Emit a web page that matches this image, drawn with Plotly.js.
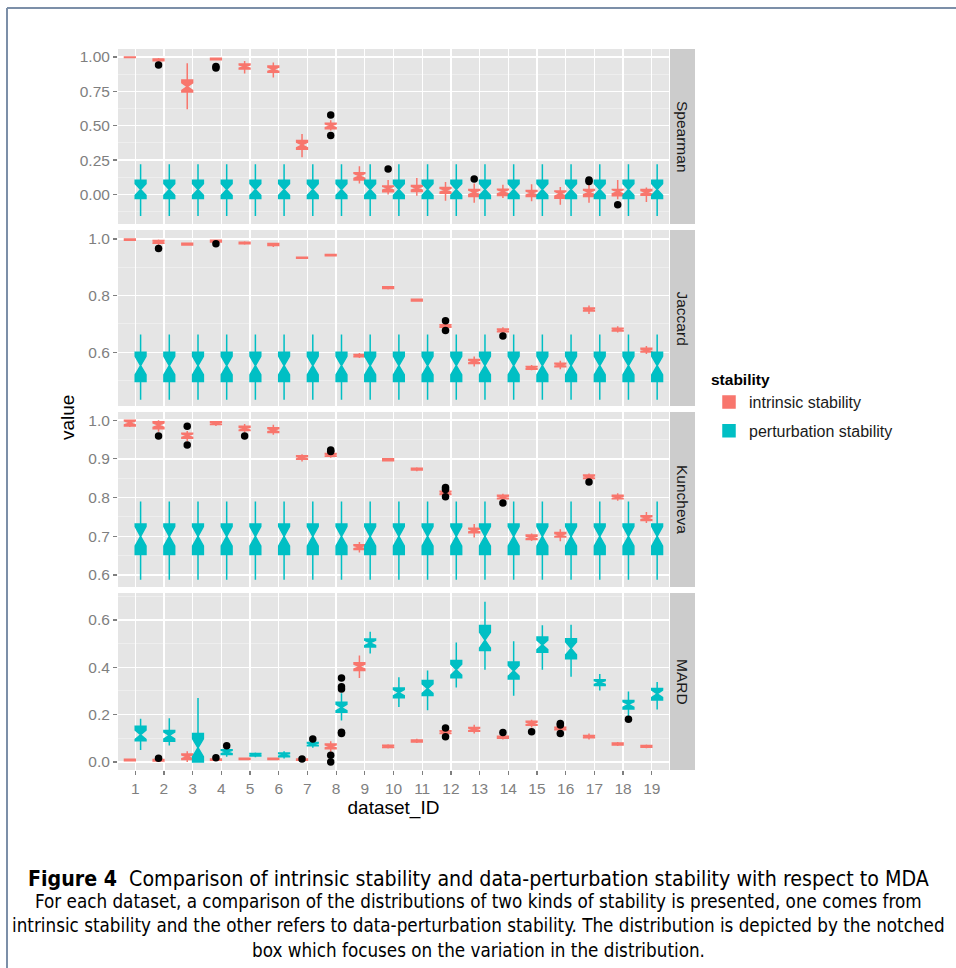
<!DOCTYPE html>
<html><head><meta charset="utf-8">
<script src="https://cdn.plot.ly/plotly-3.0.1.min.js"></script>
<style>html,body{margin:0;padding:0;background:#fff}#chart{width:956px;height:968px}</style>
</head><body><div id="chart"></div><script>
// ---------- DATA ----------
const datasetIds = [1,2,3,4,5,6,7,8,9,10,11,12,13,14,15,16,17,18,19];
const facetNames = ["Spearman","Jaccard","Kuncheva","MARD"];
const seriesNames = ["intrinsic stability","perturbation stability"];
const sampleSize = 25; // runs per box, used for notch width (1.58*IQR/sqrt(n))

// Spearman - intrinsic
const spIntrQ1  = [0.996,0.972,0.745,0.980,0.912,0.888,0.328,0.478,0.105,0.020,0.022,0.008,-0.015,-0.008,-0.015,-0.028,-0.015,-0.010,-0.005];
const spIntrMed = [0.998,0.979,0.785,0.985,0.930,0.910,0.360,0.500,0.135,0.045,0.045,0.030,0.015,0.020,0.010,0.005,0.015,0.020,0.015];
const spIntrQ3  = [1.000,0.986,0.832,0.990,0.948,0.935,0.392,0.518,0.158,0.062,0.065,0.050,0.036,0.038,0.028,0.025,0.036,0.036,0.036];
const spIntrLo  = [0.994,0.962,0.620,0.975,0.880,0.850,0.270,0.465,0.080,0.000,-0.010,-0.045,-0.060,-0.025,-0.050,-0.075,-0.060,-0.035,-0.055];
const spIntrHi  = [1.000,0.992,0.955,0.995,0.970,0.960,0.440,0.540,0.205,0.105,0.120,0.090,0.080,0.070,0.075,0.055,0.070,0.105,0.050];
const spIntrOutX = [2,4,4,8,8,10,13,17,17,18];
const spIntrOutY = [0.942,0.930,0.920,0.578,0.428,0.185,0.112,0.105,0.095,-0.075];
// Spearman - perturbation
const spPertQ1  = [-0.030,-0.030,-0.030,-0.030,-0.030,-0.030,-0.030,-0.030,-0.030,-0.030,-0.030,-0.030,-0.030,-0.030,-0.030,-0.030,-0.030,-0.030,-0.030];
const spPertMed = [0.036,0.036,0.036,0.036,0.036,0.036,0.036,0.036,0.036,0.036,0.036,0.036,0.036,0.036,0.036,0.036,0.036,0.036,0.036];
const spPertQ3  = [0.103,0.103,0.103,0.103,0.103,0.103,0.103,0.103,0.103,0.103,0.103,0.103,0.103,0.103,0.103,0.103,0.103,0.103,0.103];
const spPertLo  = [-0.157,-0.157,-0.157,-0.157,-0.157,-0.157,-0.157,-0.157,-0.157,-0.157,-0.157,-0.157,-0.157,-0.157,-0.157,-0.157,-0.157,-0.157,-0.157];
const spPertHi  = [0.220,0.220,0.220,0.220,0.220,0.220,0.220,0.220,0.220,0.220,0.220,0.220,0.220,0.220,0.220,0.220,0.220,0.220,0.220];
const spPertOutX = [];
const spPertOutY = [];

// Jaccard - intrinsic
const jaIntrQ1  = [0.996,0.985,0.979,0.990,0.983,0.977,0.932,0.941,0.584,0.825,0.781,0.688,0.560,0.672,0.540,0.549,0.746,0.675,0.601];
const jaIntrMed = [0.998,0.990,0.982,0.993,0.986,0.980,0.934,0.943,0.588,0.828,0.784,0.693,0.567,0.677,0.545,0.555,0.751,0.680,0.607];
const jaIntrQ3  = [1.000,0.995,0.985,0.996,0.989,0.984,0.936,0.945,0.592,0.831,0.787,0.697,0.574,0.682,0.550,0.561,0.756,0.685,0.614];
const jaIntrLo  = [0.995,0.978,0.977,0.987,0.980,0.972,0.930,0.939,0.580,0.822,0.778,0.684,0.550,0.668,0.536,0.540,0.735,0.670,0.594];
const jaIntrHi  = [1.000,0.998,0.987,0.998,0.992,0.987,0.938,0.947,0.597,0.833,0.790,0.700,0.585,0.688,0.555,0.570,0.765,0.692,0.622];
const jaIntrOutX = [2,4,12,12,14];
const jaIntrOutY = [0.967,0.983,0.711,0.677,0.657];
// Jaccard - perturbation
const jaPertQ1  = [0.497,0.497,0.497,0.497,0.497,0.497,0.497,0.497,0.497,0.497,0.497,0.497,0.497,0.497,0.497,0.497,0.497,0.497,0.497];
const jaPertMed = [0.553,0.553,0.553,0.553,0.553,0.553,0.553,0.553,0.553,0.553,0.553,0.553,0.553,0.553,0.553,0.553,0.553,0.553,0.553];
const jaPertQ3  = [0.600,0.600,0.600,0.600,0.600,0.600,0.600,0.600,0.600,0.600,0.600,0.600,0.600,0.600,0.600,0.600,0.600,0.600,0.600];
const jaPertLo  = [0.432,0.432,0.432,0.432,0.432,0.432,0.432,0.432,0.432,0.432,0.432,0.432,0.432,0.432,0.432,0.432,0.432,0.432,0.432];
const jaPertHi  = [0.663,0.663,0.663,0.663,0.663,0.663,0.663,0.663,0.663,0.663,0.663,0.663,0.663,0.663,0.663,0.663,0.663,0.663,0.663];
const jaPertOutX = [];
const jaPertOutY = [];

// Kuncheva - intrinsic
const kuIntrQ1  = [0.985,0.978,0.953,0.989,0.973,0.968,0.899,0.907,0.666,0.895,0.871,0.808,0.709,0.797,0.692,0.698,0.849,0.797,0.741];
const kuIntrMed = [0.993,0.987,0.960,0.992,0.978,0.974,0.903,0.910,0.672,0.898,0.873,0.812,0.715,0.801,0.697,0.703,0.853,0.800,0.747];
const kuIntrQ3  = [1.000,0.996,0.966,0.996,0.984,0.980,0.908,0.914,0.678,0.900,0.876,0.816,0.721,0.806,0.703,0.710,0.858,0.806,0.753];
const kuIntrLo  = [0.982,0.970,0.946,0.985,0.968,0.962,0.893,0.903,0.658,0.893,0.868,0.805,0.697,0.793,0.688,0.687,0.846,0.792,0.734];
const kuIntrHi  = [1.000,1.000,0.972,0.998,0.990,0.988,0.912,0.917,0.685,0.902,0.878,0.818,0.732,0.810,0.707,0.718,0.862,0.811,0.763];
const kuIntrOutX = [2,3,3,5,8,8,12,12,12,14,17];
const kuIntrOutY = [0.959,0.984,0.936,0.959,0.923,0.919,0.826,0.821,0.802,0.786,0.840];
// Kuncheva - perturbation
const kuPertQ1  = [0.653,0.653,0.653,0.653,0.653,0.653,0.653,0.653,0.653,0.653,0.653,0.653,0.653,0.653,0.653,0.653,0.653,0.653,0.653];
const kuPertMed = [0.700,0.700,0.700,0.700,0.700,0.700,0.700,0.700,0.700,0.700,0.700,0.700,0.700,0.700,0.700,0.700,0.700,0.700,0.700];
const kuPertQ3  = [0.732,0.732,0.732,0.732,0.732,0.732,0.732,0.732,0.732,0.732,0.732,0.732,0.732,0.732,0.732,0.732,0.732,0.732,0.732];
const kuPertLo  = [0.588,0.588,0.588,0.588,0.588,0.588,0.588,0.588,0.588,0.588,0.588,0.588,0.588,0.588,0.588,0.588,0.588,0.588,0.588];
const kuPertHi  = [0.790,0.790,0.790,0.790,0.790,0.790,0.790,0.790,0.790,0.790,0.790,0.790,0.790,0.790,0.790,0.790,0.790,0.790,0.790];
const kuPertOutX = [];
const kuPertOutY = [];

// MARD - intrinsic
const maIntrQ1  = [0.005,0.004,0.010,0.007,0.010,0.010,0.007,0.056,0.387,0.061,0.084,0.120,0.130,0.100,0.155,0.136,0.102,0.072,0.062];
const maIntrMed = [0.008,0.007,0.022,0.010,0.013,0.013,0.010,0.066,0.403,0.066,0.089,0.126,0.138,0.104,0.163,0.142,0.107,0.076,0.066];
const maIntrQ3  = [0.011,0.010,0.034,0.013,0.016,0.016,0.013,0.076,0.419,0.071,0.093,0.132,0.146,0.109,0.172,0.147,0.112,0.080,0.070];
const maIntrLo  = [0.002,0.002,0.000,0.004,0.008,0.008,0.004,0.043,0.355,0.057,0.080,0.114,0.120,0.095,0.146,0.131,0.095,0.067,0.058];
const maIntrHi  = [0.014,0.013,0.045,0.016,0.018,0.018,0.016,0.087,0.450,0.075,0.098,0.136,0.157,0.113,0.178,0.151,0.120,0.084,0.074];
const maIntrOutX = [2,4,7,8,8,12,12,14,15,16,16,16];
const maIntrOutY = [0.016,0.018,0.012,0.028,0.000,0.143,0.107,0.124,0.128,0.163,0.156,0.120];
// MARD - perturbation
const maPertQ1  = [0.090,0.088,0.000,0.031,0.025,0.022,0.068,0.210,0.486,0.271,0.281,0.356,0.471,0.351,0.464,0.436,0.323,0.224,0.262];
const maPertMed = [0.115,0.112,0.060,0.042,0.030,0.030,0.075,0.230,0.503,0.293,0.310,0.390,0.515,0.385,0.495,0.480,0.336,0.243,0.288];
const maPertQ3  = [0.151,0.133,0.120,0.052,0.036,0.038,0.082,0.252,0.520,0.313,0.344,0.429,0.577,0.422,0.528,0.521,0.347,0.260,0.310];
const maPertLo  = [0.050,0.070,0.000,0.022,0.020,0.015,0.060,0.175,0.458,0.232,0.218,0.315,0.390,0.280,0.390,0.360,0.302,0.190,0.222];
const maPertHi  = [0.183,0.185,0.270,0.060,0.040,0.045,0.086,0.290,0.550,0.358,0.387,0.505,0.677,0.510,0.578,0.580,0.372,0.298,0.338];
const maPertOutX = [4,7,8,8,8,8,8,18];
const maPertOutY = [0.068,0.097,0.355,0.318,0.308,0.126,0.120,0.180];

// ---------- STYLE ----------
const COLORS = ["#F8766D", "#00BFC4"];
const BOXGAP = 0.25;
const DODGE = (1 - BOXGAP) / 4;   // centre offset of each of the 2 dodged boxes
const W = 956, H = 968;
const px = v => v / W;
const py = v => 1 - v / H;
const XDOM = [px(118), px(669)];
const panels = [
  {top: 49,  bot: 224, range: [-0.215, 1.058], dtick: 0.25, minor: 0.125, fmt: ".2f"},
  {top: 230, bot: 406, range: [0.41, 1.032],   dtick: 0.2,  minor: 0.1,   fmt: ".1f"},
  {top: 412, bot: 587, range: [0.569, 1.021],  dtick: 0.1,  minor: 0.05,  fmt: ".1f"},
  {top: 593, bot: 770, range: [-0.034, 0.714], dtick: 0.2,  minor: 0.1,   fmt: ".1f"}
];
const facetData = [
  [[spIntrQ1,spIntrMed,spIntrQ3,spIntrLo,spIntrHi,spIntrOutX,spIntrOutY],[spPertQ1,spPertMed,spPertQ3,spPertLo,spPertHi,spPertOutX,spPertOutY]],
  [[jaIntrQ1,jaIntrMed,jaIntrQ3,jaIntrLo,jaIntrHi,jaIntrOutX,jaIntrOutY],[jaPertQ1,jaPertMed,jaPertQ3,jaPertLo,jaPertHi,jaPertOutX,jaPertOutY]],
  [[kuIntrQ1,kuIntrMed,kuIntrQ3,kuIntrLo,kuIntrHi,kuIntrOutX,kuIntrOutY],[kuPertQ1,kuPertMed,kuPertQ3,kuPertLo,kuPertHi,kuPertOutX,kuPertOutY]],
  [[maIntrQ1,maIntrMed,maIntrQ3,maIntrLo,maIntrHi,maIntrOutX,maIntrOutY],[maPertQ1,maPertMed,maPertQ3,maPertLo,maPertHi,maPertOutX,maPertOutY]]
];

const FONT = "'Liberation Sans', Arial, Helvetica, sans-serif";
const traces = [];
const layout = {
  width: W, height: H,
  margin: {l: 0, r: 0, t: 0, b: 0},
  paper_bgcolor: "#FFFFFF",
  plot_bgcolor: "#E5E5E5",
  font: {family: FONT, size: 15, color: "#000"},
  boxmode: "group", boxgap: BOXGAP, boxgroupgap: 0,
  showlegend: true,
  legend: {
    x: px(709), y: py(365), xanchor: "left", yanchor: "top",
    title: {text: "<b>stability</b>", font: {size: 15.5, color: "#000"}},
    font: {size: 16, color: "#1a1a1a"},
    bgcolor: "rgba(0,0,0,0)",
    traceorder: "grouped", tracegroupgap: 5
  },
  shapes: [], annotations: []
};

facetData.forEach((fd, f) => {
  const k = f === 0 ? "" : String(f + 1);
  const p = panels[f];
  const isBottom = f === panels.length - 1;
  layout["xaxis" + k] = {
    domain: XDOM, anchor: "y" + k, range: [0.4, 19.6],
    tickmode: "array", tickvals: datasetIds, ticktext: datasetIds.map(String),
    showticklabels: isBottom, ticks: isBottom ? "outside" : "", ticklen: 4, tickcolor: "#7F7F7F", tickwidth: 1.2,
    tickfont: {size: 15.5, color: "#7F7F7F"},
    showgrid: true, gridcolor: "#FFFFFF", gridwidth: 1.3, zeroline: false, showline: false,
    title: isBottom ? {text: "dataset_ID", font: {size: 19, color: "#000"}, standoff: 4} : {text: ""}
  };
  layout["yaxis" + k] = {
    domain: [py(p.bot), py(p.top)], anchor: "x" + k, range: p.range,
    tick0: 0, dtick: p.dtick, tickformat: p.fmt,
    ticks: "outside", ticklen: 4, tickcolor: "#7F7F7F", tickwidth: 1.2,
    tickfont: {size: 15.5, color: "#7F7F7F"},
    showgrid: true, gridcolor: "#FFFFFF", gridwidth: 1.3, zeroline: false, showline: false,
    minor: {dtick: p.minor, tick0: 0, showgrid: true, gridcolor: "#F2F2F2", gridwidth: 0.7, ticks: ""}
  };
  fd.forEach((s, si) => {
    const [q1, med, q3, lo, hi] = s;
    traces.push({
      type: "box", name: seriesNames[si], legendgroup: seriesNames[si], showlegend: f === 0,
      alignmentgroup: "panel" + f, offsetgroup: "series" + si,
      x: datasetIds, q1: q1, median: med, q3: q3, lowerfence: lo, upperfence: hi,
      notchspan: q1.map((v, i) => 1.58 * (q3[i] - v) / Math.sqrt(sampleSize)),
      notched: true, notchwidth: 0.5, whiskerwidth: 0, boxpoints: false,
      fillcolor: COLORS[si], line: {color: COLORS[si], width: 1.5},
      xaxis: "x" + k, yaxis: "y" + k, hoverinfo: "y"
    });
  });
  fd.forEach((s, si) => {
    const ox = s[5], oy = s[6];
    if (!ox.length) return;
    traces.push({
      type: "scatter", mode: "markers", showlegend: false, legendgroup: seriesNames[si],
      x: ox.map(v => v + (si === 0 ? -DODGE : DODGE)), y: oy,
      marker: {color: "#000", size: 7.5},
      xaxis: "x" + k, yaxis: "y" + k, hoverinfo: "y"
    });
  });
  // facet strip
  layout.shapes.push({type: "rect", xref: "paper", yref: "paper", x0: px(670), x1: px(695),
    y0: py(p.bot), y1: py(p.top), fillcolor: "#CCCCCC", line: {width: 0}, layer: "below"});
  layout.annotations.push({xref: "paper", yref: "paper", x: px(682.5), y: py((p.top + p.bot) / 2),
    text: facetNames[f], textangle: 90, showarrow: false, font: {size: 15.5, color: "#1a1a1a"},
    xanchor: "center", yanchor: "middle"});
});

// y-axis title
layout.annotations.push({xref: "paper", yref: "paper", x: px(67), y: py(418), text: "value",
  textangle: -90, showarrow: false, font: {size: 19, color: "#000"}, xanchor: "center", yanchor: "middle"});

// figure frame
layout.shapes.push({type: "line", xref: "paper", yref: "paper", x0: px(7), x1: 1, y0: py(8), y1: py(8),
  line: {color: "#7C8FA8", width: 2}});
layout.shapes.push({type: "line", xref: "paper", yref: "paper", x0: px(7), x1: px(7), y0: py(8), y1: 0,
  line: {color: "#7C8FA8", width: 2}});

// caption
const CAP = "'Liberation Sans Narrow', 'DejaVu Sans Condensed', 'Liberation Sans', sans-serif";
const captionTitle = "<b>Figure 4</b>  Comparison of intrinsic stability and data-perturbation stability with respect to MDA";
const captionLines = [
  "For each dataset, a comparison of the distributions of two kinds of stability is presented, one comes from",
  "intrinsic stability and the other refers to data-perturbation stability. The distribution is depicted by the notched",
  "box which focuses on the variation in the distribution."
];
layout.annotations.push({xref: "paper", yref: "paper", x: px(478), y: py(878), text: captionTitle,
  showarrow: false, font: {family: CAP, size: 21.2, color: "#000"}, xanchor: "center", yanchor: "middle"});
captionLines.forEach((t, i) => {
  layout.annotations.push({xref: "paper", yref: "paper", x: px(478), y: py(901 + i * 24.5), text: t,
    showarrow: false, font: {family: CAP, size: 18.7, color: "#000"}, xanchor: "center", yanchor: "middle"});
});

Plotly.newPlot("chart", traces, layout, {staticPlot: true, displayModeBar: false});
</script></body></html>
